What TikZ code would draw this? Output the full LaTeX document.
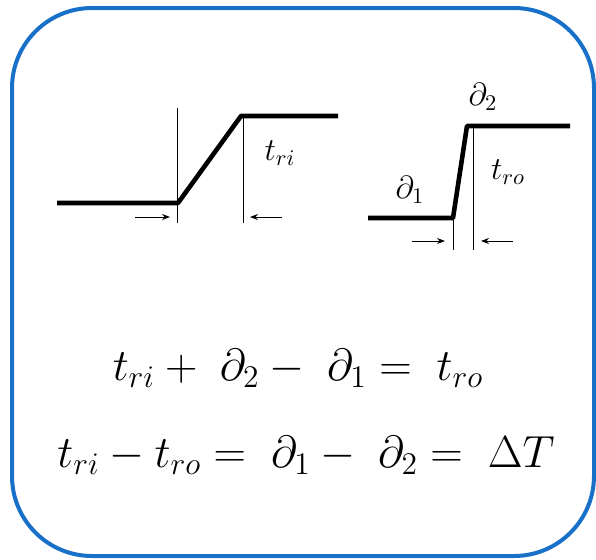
\RequirePackage{fix-cm}
\documentclass[tikz,border=0pt]{standalone}
\usetikzlibrary{arrows.meta}
\definecolor{framblue}{RGB}{24,112,200}
\tikzset{
  signal/.style={line width=2.3pt,line join=round},
  guide/.style={line width=0.5pt},
  dimarrow/.style={line width=0.5pt,-{Stealth[length=4pt,width=3pt]}},
  lbl/.style={inner sep=0pt,font=\fontsize{16}{18}\selectfont},
  eqn/.style={inner sep=0pt,font=\fontsize{22.5}{26}\selectfont}
}
\begin{document}
\begin{tikzpicture}[x=0.5pt,y=-0.5pt]
\useasboundingbox (0,0) rectangle (596,559);
% frame
\draw[framblue,line width=2pt,rounded corners=40pt] (12,8) rectangle (594,556);
% input edge
\coordinate (a0) at (57,203);
\coordinate (a1) at (178,203);
\coordinate (a2) at (241,116);
\coordinate (a3) at (338,116);
\draw[signal] (a0) -- (a1) -- (a2) -- (a3);
\draw[guide] (177,108) coordinate (ga) -- (177,223) coordinate (gb);
\draw[guide] (243,116) coordinate (gc) -- (243,223) coordinate (gd);
\draw[dimarrow] (135,217) -- (170,217);
\draw[dimarrow] (282,217) -- (250,217);
\node[lbl] (tri) at (280,153) {$t_{ri}$};
% output edge
\coordinate (b0) at (368,218);
\coordinate (b1) at (453,218);
\coordinate (b2) at (467,126);
\coordinate (b3) at (570,126);
\draw[signal] (b0) -- (b1) -- (b2) -- (b3);
\draw[guide] (b1) -- (453,250);
\draw[guide] (473,128) -- (473,250);
\draw[dimarrow] (412,241) -- (445,241);
\draw[dimarrow] (513,241) -- (481,241);
\node[lbl] (d2) at (483,97) {$\partial_2$};
\node[lbl] (d1) at (410,190) {$\partial_1$};
\node[lbl] (tro) at (508,172) {$t_{ro}$};
% relations
\node[eqn] (eqa) at (298,368) {$t_{ri} + \;\partial_2 - \;\partial_1 = \;t_{ro}$};
\node[eqn] (eqb) at (306,455) {$t_{ri} - t_{ro} = \;\partial_1 - \;\partial_2 = \;\Delta T$};
\end{tikzpicture}
\end{document}
